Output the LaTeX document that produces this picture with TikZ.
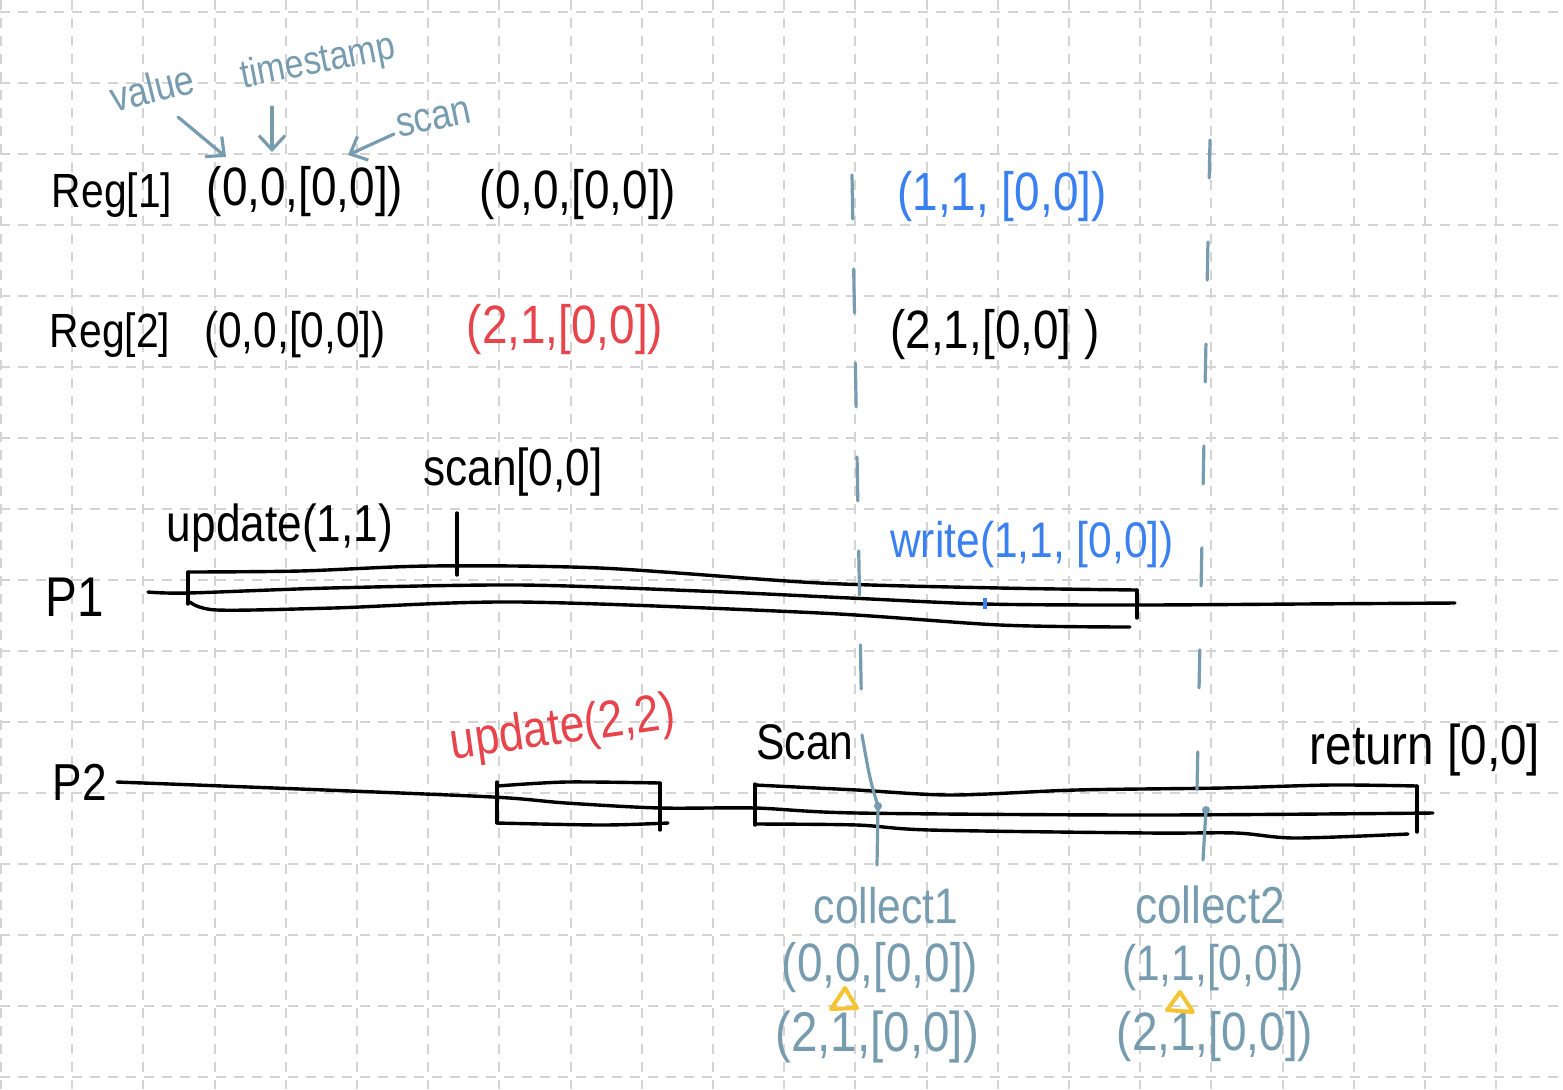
\documentclass[tikz,border=0pt]{standalone}
\usepackage{fontspec}
\setmainfont[FakeStretch=0.85]{Liberation Sans}
\usetikzlibrary{arrows.meta}
\definecolor{pencil}{RGB}{120,156,175}
\definecolor{wblue}{RGB}{59,128,240}
\definecolor{ured}{RGB}{232,68,76}
\definecolor{hilite}{RGB}{245,196,49}
\definecolor{gridgray}{RGB}{212,212,212}
\newcommand{\fs}[1]{\fontsize{#1}{#1}\selectfont}

\begin{document}
\begin{tikzpicture}[x=0.5pt,y=-0.5pt]
\tikzstyle{gridline}=[gridgray,line width=1pt,dash pattern=on 5pt off 4pt]
\tikzstyle{ink}=[black,line width=1.7pt,line cap=round,line join=round]
\tikzstyle{pencilline}=[pencil,line width=1.6pt,line cap=round]
\tikzstyle{pointer}=[pencilline,-{Straight Barb[length=7pt,width=13pt]}]
\tikzstyle{txt}=[inner sep=0pt]
\useasboundingbox (0,0) rectangle (1563,1089);
\fill[white] (0,0) rectangle (1563,1089);
% paper grid
\foreach \i in {0,...,21} \draw[gridline] (1+71.2*\i,0) -- (1+71.2*\i,1089);
\foreach \j in {0,...,15} \draw[gridline] (0,12+71*\j) -- (1563,12+71*\j);
% texts
\foreach \name/\point/\col/\size/\txt in {
	reg1/{112,195}/black/24/{Reg[1]},
	tupA1/{305,192}/black/27/{(0,0,[0,0])},
	tupB1/{578,195}/black/27/{(0,0,[0,0])},
	tupC1/{1002,197}/wblue/27/{(1,1, [0,0])},
	reg2/{110,335}/black/24/{Reg[2]},
	tupA2/{295,335}/black/25/{(0,0,[0,0])},
	tupB2/{565,330}/ured/27/{(2,1,[0,0])},
	tupC2/{995,335}/black/27/{(2,1,[0,0] )},
	p1/{75,597}/black/28/P1,
	p2/{80,782}/black/26/P2,
	upd1/{280,528}/black/26/{update(1,1)},
	scn1/{513,472}/black/26/{scan[0,0]},
	wrt/{1032,545}/wblue/25/{write(1,1, [0,0])},
	scn2/{805,742}/black/25/Scan,
	ret/{1425,750}/black/28/{return [0,0]},
	col1/{886,906}/pencil/25/collect1,
	col2/{1210,905}/pencil/26/collect2,
	res1a/{880,968}/pencil/27/{(0,0,[0,0])},
	res1b/{877,1037}/pencil/28/{(2,1,[0,0])},
	res2a/{1213,968}/pencil/25/{(1,1,[0,0])},
	res2b/{1215,1037}/pencil/27/{(2,1,[0,0])}}
	\node[txt,text=\col,font=\fs{\size}] (\name) at (\point) {\txt};
\node[txt,text=pencil,font=\fs{21},rotate=14] (val) at (152,88) {value};
\node[txt,text=pencil,font=\fs{20},rotate=11] (ts) at (318,63) {timestamp};
\node[txt,text=pencil,font=\fs{21},rotate=12] (sc) at (434,119) {scan};
\node[txt,text=ured,font=\fs{26},rotate=8] (upd2) at (563,730) {update(2,2)};
% pointers to the fields
\coordinate (valtail) at (178,117);
\coordinate (valtip) at (226,157);
\coordinate (tstail) at (272,107);
\coordinate (tstip) at (272,152);
\coordinate (sctail) at (394,134);
\coordinate (sctip) at (348,155);
\draw[pointer] (valtail) -- (valtip);
\draw[pointer] (tstail) -- (tstip);
\draw[pointer] (sctail) -- (sctip);
% P1
\draw[ink] plot[smooth,tension=0.5] coordinates {(148,592)(188,593)(330,588)(520,585)(700,591)(850,598)(985,604)(1137,605)(1300,604)(1455,603)};
\draw[ink] (188,572) -- (188,604);
\draw[ink] plot[smooth,tension=0.5] coordinates {(188,572)(300,571)(430,566)(600,568)(820,583)(1000,588)(1137,590)};
\draw[ink] (1137,590) -- (1137,618);
\draw[ink] plot[smooth,tension=0.5] coordinates {(190,602)(217,610)(333,608)(520,602)(820,613)(1000,625)(1130,627)};
\draw[ink] (457,513) -- (457,575);
\draw[wblue,line width=1.6pt] (985,598) -- (985,609);
% P2
\draw[ink] plot[smooth,tension=0.5] coordinates {(117,782)(300,789)(493,797)(566,803)(660,808)(755,808)(857,813)(1149,815)(1433,813)};
\draw[ink] (497,782) -- (497,823);
\draw[ink] plot[smooth,tension=0.5] coordinates {(497,786)(566,782)(660,783)};
\draw[ink] (660,783) -- (660,830);
\draw[ink] plot[smooth,tension=0.5] coordinates {(497,823)(602,825)(668,823)};
\draw[ink] (755,784) -- (755,825);
\draw[ink] plot[smooth,tension=0.5] coordinates {(755,785)(857,790)(952,795)(1076,790)(1222,788)(1331,785)(1417,786)};
\draw[ink] (1417,786) -- (1417,832);
\draw[ink] plot[smooth,tension=0.5] coordinates {(755,824)(857,825)(930,830)(1149,833)(1236,833)(1295,838)(1408,834)};
% collects
\coordinate (c1top) at (852,175);
\coordinate (c1mid) at (862,735);
\coordinate (c1hit) at (878,806);
\coordinate (c1end) at (877,865);
\coordinate (c2top) at (1210,140);
\coordinate (c2mid) at (1197,790);
\coordinate (c2hit) at (1206,810);
\coordinate (c2end) at (1203,860);
\draw[pencilline,dash pattern=on 22pt off 25pt] (c1top) -- (c1mid);
\draw[pencilline] (c1mid) .. controls (870,780) .. (c1hit) -- (c1end);
\fill[pencil] (c1hit) circle (4);
\draw[pencilline,dash pattern=on 19pt off 32pt] (c2top) -- (c2mid);
\draw[pencilline] (c2hit) -- (c2end);
\fill[pencil] (c2hit) circle (4);
% same-value marks
\draw[hilite,line width=2pt,line join=round] (845,988) -- (831,1009) -- (857,1008) -- cycle;
\draw[hilite,line width=2pt,line join=round] (1180,992) -- (1167,1010) -- (1193,1012) -- cycle;
\end{tikzpicture}
\end{document}
